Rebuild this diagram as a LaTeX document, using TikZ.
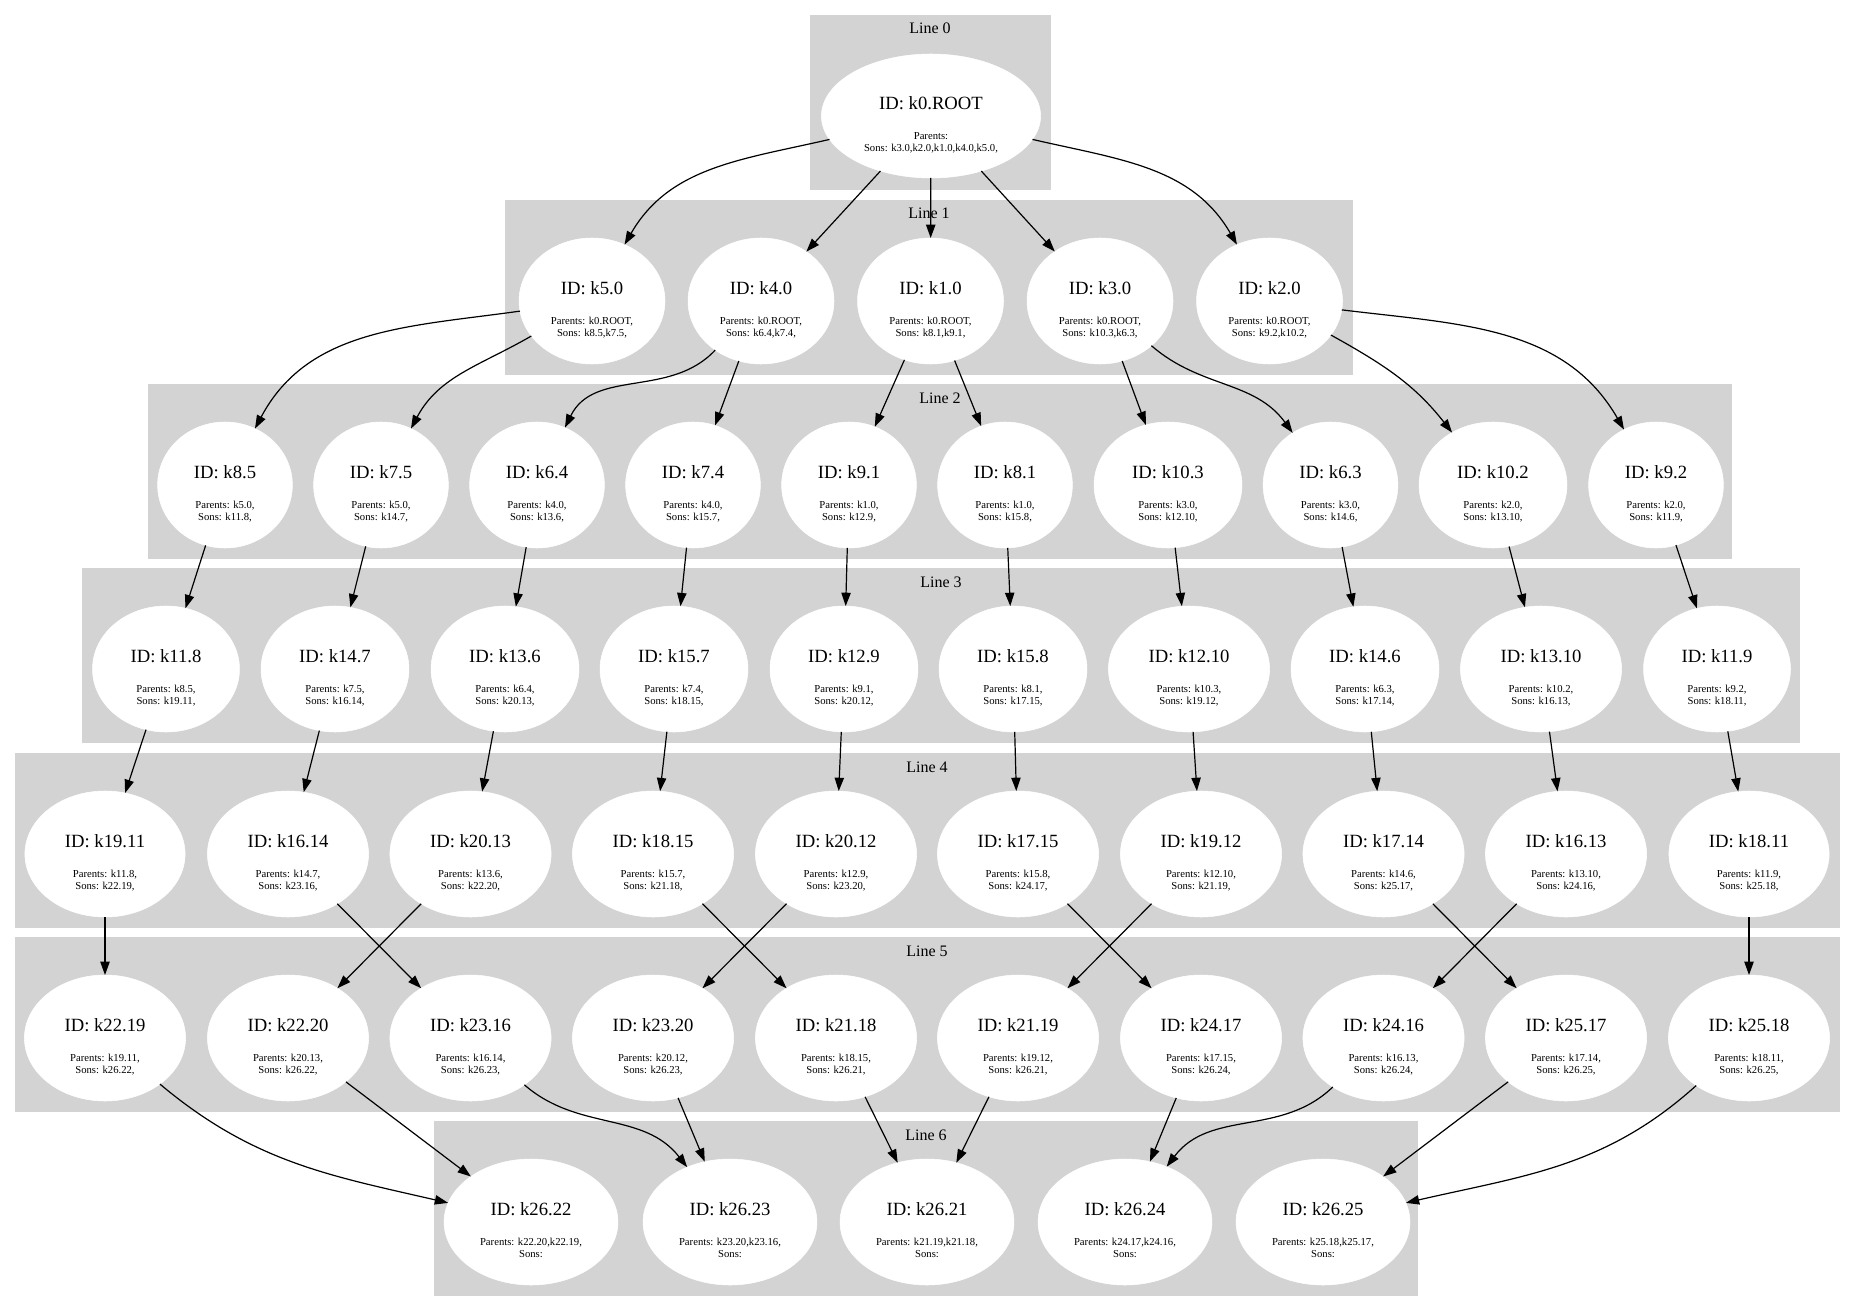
\documentclass[tikz,border=0pt]{standalone}
\usepackage{fontspec}
\setmainfont{Liberation Serif}
\usetikzlibrary{shapes.geometric,arrows.meta}

\definecolor{clgrey}{HTML}{D3D3D3}
\newcommand{\idfont}{\fontsize{14}{16}\selectfont}
\newcommand{\smfont}{\fontsize{8}{9}\selectfont}
% node text: big id line, then parents and sons
\newcommand{\klabel}[3]{\vbox{\offinterlineskip\halign{\hfil##\hfil\cr
  \idfont\rule[-1.5pt]{0pt}{24.5pt}\hspace{4.5pt}ID: #1\hspace{4.5pt}\cr
  \smfont\rule[-1.5pt]{0pt}{22.9pt}Parents: #2\unskip\cr
  \smfont\rule[-1.5pt]{0pt}{8.5pt}Sons: #3\unskip\cr}}}

\tikzset{
  knode/.style={ellipse, fill=white, draw=white, inner xsep=7.9pt, inner ysep=2pt,
    minimum height=94.5pt, outer sep=0pt},
  linelabel/.style={anchor=base, font=\fontsize{12}{14}\selectfont, inner sep=0pt},
  cluster/.style={fill=clgrey}
}

\begin{document}
\begin{tikzpicture}[x=0.75pt, y=0.75pt, >={Triangle[length=10pt,width=7pt]}]
\useasboundingbox (0,0) rectangle (1855,-1312);
\fill[white] (0,0) rectangle (1855,-1312);

% clusters
\fill[cluster] (810,-15) rectangle (1051,-190);
\fill[cluster] (505,-200) rectangle (1353,-375);
\fill[cluster] (148,-384) rectangle (1732,-559);
\fill[cluster] (82,-568) rectangle (1800,-743);
\fill[cluster] (15,-753) rectangle (1840,-928);
\fill[cluster] (15,-937) rectangle (1840,-1112);
\fill[cluster] (434,-1121) rectangle (1418,-1296);
\node[linelabel] (lab0) at (930,-34) {Line 0};
\node[linelabel] (lab1) at (929,-219) {Line 1};
\node[linelabel] (lab2) at (940,-403) {Line 2};
\node[linelabel] (lab3) at (941,-587) {Line 3};
\node[linelabel] (lab4) at (927,-772) {Line 4};
\node[linelabel] (lab5) at (927,-956) {Line 5};
\node[linelabel] (lab6) at (926,-1140) {Line 6};

\begin{scope}[every node/.style={knode}]
  % line 0
  \node[minimum height=93pt] (k0root) at (931,-116) {\klabel{k0.ROOT}{}{k3.0,k2.0,k1.0,k4.0,k5.0,}};
  % line 1
  \node (k50) at (592,-301) {\klabel{k5.0}{k0.ROOT,}{k8.5,k7.5,}};
  \node (k40) at (761,-301) {\klabel{k4.0}{k0.ROOT,}{k6.4,k7.4,}};
  \node (k10) at (930.5,-301) {\klabel{k1.0}{k0.ROOT,}{k8.1,k9.1,}};
  \node (k30) at (1100,-301) {\klabel{k3.0}{k0.ROOT,}{k10.3,k6.3,}};
  \node (k20) at (1269.5,-301) {\klabel{k2.0}{k0.ROOT,}{k9.2,k10.2,}};
  % line 2
  \node (k85) at (225,-485) {\klabel{k8.5}{k5.0,}{k11.8,}};
  \node (k75) at (381,-485) {\klabel{k7.5}{k5.0,}{k14.7,}};
  \node (k64) at (537,-485) {\klabel{k6.4}{k4.0,}{k13.6,}};
  \node (k74) at (693,-485) {\klabel{k7.4}{k4.0,}{k15.7,}};
  \node (k91) at (849,-485) {\klabel{k9.1}{k1.0,}{k12.9,}};
  \node (k81) at (1005,-485) {\klabel{k8.1}{k1.0,}{k15.8,}};
  \node (k103) at (1168,-485) {\klabel{k10.3}{k3.0,}{k12.10,}};
  \node (k63) at (1330.5,-485) {\klabel{k6.3}{k3.0,}{k14.6,}};
  \node (k102) at (1493,-485) {\klabel{k10.2}{k2.0,}{k13.10,}};
  \node (k92) at (1656,-485) {\klabel{k9.2}{k2.0,}{k11.9,}};
  % line 3
  \node (k118) at (166,-669) {\klabel{k11.8}{k8.5,}{k19.11,}};
  \node (k147) at (335,-669) {\klabel{k14.7}{k7.5,}{k16.14,}};
  \node (k136) at (505,-669) {\klabel{k13.6}{k6.4,}{k20.13,}};
  \node (k157) at (674,-669) {\klabel{k15.7}{k7.4,}{k18.15,}};
  \node (k129) at (844,-669) {\klabel{k12.9}{k9.1,}{k20.12,}};
  \node (k158) at (1013,-669) {\klabel{k15.8}{k8.1,}{k17.15,}};
  \node (k1210) at (1189,-669) {\klabel{k12.10}{k10.3,}{k19.12,}};
  \node (k146) at (1365,-669) {\klabel{k14.6}{k6.3,}{k17.14,}};
  \node (k1310) at (1541,-669) {\klabel{k13.10}{k10.2,}{k16.13,}};
  \node (k119) at (1717,-669) {\klabel{k11.9}{k9.2,}{k18.11,}};
  % line 4
  \node (k1911) at (105,-854) {\klabel{k19.11}{k11.8,}{k22.19,}};
  \node (k1614) at (288,-854) {\klabel{k16.14}{k14.7,}{k23.16,}};
  \node (k2013) at (470.5,-854) {\klabel{k20.13}{k13.6,}{k22.20,}};
  \node (k1815) at (653,-854) {\klabel{k18.15}{k15.7,}{k21.18,}};
  \node (k2012) at (836,-854) {\klabel{k20.12}{k12.9,}{k23.20,}};
  \node (k1715) at (1018,-854) {\klabel{k17.15}{k15.8,}{k24.17,}};
  \node (k1912) at (1201,-854) {\klabel{k19.12}{k12.10,}{k21.19,}};
  \node (k1714) at (1383.5,-854) {\klabel{k17.14}{k14.6,}{k25.17,}};
  \node (k1613) at (1566,-854) {\klabel{k16.13}{k13.10,}{k24.16,}};
  \node (k1811) at (1749,-854) {\klabel{k18.11}{k11.9,}{k25.18,}};
  % line 5
  \node (k2219) at (105,-1038) {\klabel{k22.19}{k19.11,}{k26.22,}};
  \node (k2220) at (288,-1038) {\klabel{k22.20}{k20.13,}{k26.22,}};
  \node (k2316) at (470.5,-1038) {\klabel{k23.16}{k16.14,}{k26.23,}};
  \node (k2320) at (653,-1038) {\klabel{k23.20}{k20.12,}{k26.23,}};
  \node (k2118) at (836,-1038) {\klabel{k21.18}{k18.15,}{k26.21,}};
  \node (k2119) at (1018,-1038) {\klabel{k21.19}{k19.12,}{k26.21,}};
  \node (k2417) at (1201,-1038) {\klabel{k24.17}{k17.15,}{k26.24,}};
  \node (k2416) at (1383.5,-1038) {\klabel{k24.16}{k16.13,}{k26.24,}};
  \node (k2517) at (1566,-1038) {\klabel{k25.17}{k17.14,}{k26.25,}};
  \node (k2518) at (1749,-1038) {\klabel{k25.18}{k18.11,}{k26.25,}};
  % line 6
  \node (k2622) at (531,-1222) {\klabel{k26.22}{k22.20,k22.19,}{}};
  \node (k2623) at (730,-1222) {\klabel{k26.23}{k23.20,k23.16,}{}};
  \node (k2621) at (927,-1222) {\klabel{k26.21}{k21.19,k21.18,}{}};
  \node (k2624) at (1125,-1222) {\klabel{k26.24}{k24.17,k24.16,}{}};
  \node (k2625) at (1323,-1222) {\klabel{k26.25}{k25.18,k25.17,}{}};
\end{scope}

\begin{scope}[every edge/.style={draw=black,line width=0.9pt}]
  % line 0 -> line 1
  \path [->] (k0root) edge[out=193,in=60] (k50);
  \path [->] (k0root) edge (k40);
  \path [->] (k0root) edge (k10);
  \path [->] (k0root) edge (k30);
  \path [->] (k0root) edge[out=-13,in=120] (k20);
  % line 1 -> line 2
  \path [->] (k50) edge[out=188,in=62] (k85);
  \path [->] (k50) edge[out=210,in=62] (k75);
  \path [->] (k40) edge[out=227,in=64] (k64);
  \path [->] (k40) edge (k74);
  \path [->] (k10) edge (k91);
  \path [->] (k10) edge (k81);
  \path [->] (k30) edge (k103);
  \path [->] (k30) edge[out=-41,in=126] (k63);
  \path [->] (k20) edge[out=-29,in=128] (k102);
  \path [->] (k20) edge[out=-7,in=120] (k92);
  % line 2 -> line 3
  \path [->] (k85) edge (k118);
  \path [->] (k75) edge (k147);
  \path [->] (k64) edge (k136);
  \path [->] (k74) edge (k157);
  \path [->] (k91) edge (k129);
  \path [->] (k81) edge (k158);
  \path [->] (k103) edge (k1210);
  \path [->] (k63) edge (k146);
  \path [->] (k102) edge (k1310);
  \path [->] (k92) edge (k119);
  % line 3 -> line 4
  \path [->] (k118) edge (k1911);
  \path [->] (k147) edge (k1614);
  \path [->] (k136) edge (k2013);
  \path [->] (k157) edge (k1815);
  \path [->] (k129) edge (k2012);
  \path [->] (k158) edge (k1715);
  \path [->] (k1210) edge (k1912);
  \path [->] (k146) edge (k1714);
  \path [->] (k1310) edge (k1613);
  \path [->] (k119) edge (k1811);
  % line 4 -> line 5
  \path [->] (k1911) edge (k2219);
  \path [->] (k2013) edge (k2220);
  \path [->] (k1614) edge (k2316);
  \path [->] (k2012) edge (k2320);
  \path [->] (k1815) edge (k2118);
  \path [->] (k1912) edge (k2119);
  \path [->] (k1715) edge (k2417);
  \path [->] (k1613) edge (k2416);
  \path [->] (k1714) edge (k2517);
  \path [->] (k1811) edge (k2518);
  % line 5 -> line 6
  \path [->] (k2219) edge[out=-40,in=167] (k2622);
  \path [->] (k2220) edge (k2622);
  \path [->] (k2316) edge[out=-41,in=128] (k2623);
  \path [->] (k2320) edge (k2623);
  \path [->] (k2118) edge (k2621);
  \path [->] (k2119) edge (k2621);
  \path [->] (k2417) edge (k2624);
  \path [->] (k2416) edge[out=224,in=53] (k2624);
  \path [->] (k2517) edge (k2625);
  \path [->] (k2518) edge[out=222,in=13] (k2625);
\end{scope}
\end{tikzpicture}
\end{document}
